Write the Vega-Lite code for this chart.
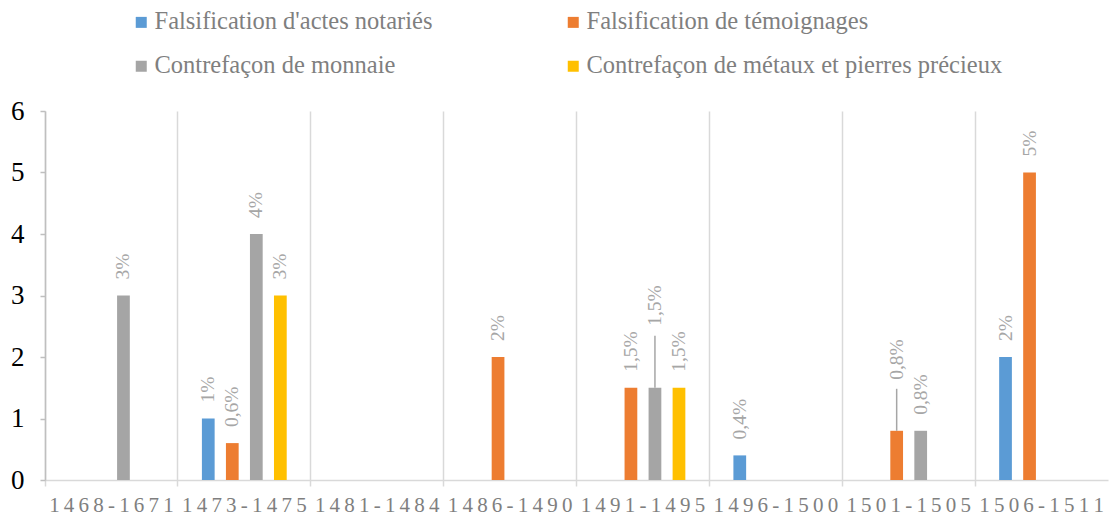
{
  "$schema": "https://vega.github.io/schema/vega-lite/v6.json",
  "width": 1063,
  "height": 369,
  "autosize": "none",
  "padding": {"left": 45, "top": 111, "right": 2, "bottom": 36},
  "background": "white",
  "config": {"font": "Liberation Serif, Times New Roman, serif", "view": {"stroke": null}},
  "data": {
    "values": [
      {"periode": "1468-1671", "type": "Contrefaçon de monnaie", "valeur": 3, "label": "3%"},
      {"periode": "1473-1475", "type": "Falsification d'actes notariés", "valeur": 1, "label": "1%"},
      {"periode": "1473-1475", "type": "Falsification de témoignages", "valeur": 0.6, "label": "0,6%"},
      {"periode": "1473-1475", "type": "Contrefaçon de monnaie", "valeur": 4, "label": "4%"},
      {"periode": "1473-1475", "type": "Contrefaçon de métaux et pierres précieux", "valeur": 3, "label": "3%"},
      {"periode": "1486-1490", "type": "Falsification de témoignages", "valeur": 2, "label": "2%"},
      {"periode": "1491-1495", "type": "Falsification de témoignages", "valeur": 1.5, "label": "1,5%"},
      {"periode": "1491-1495", "type": "Contrefaçon de monnaie", "valeur": 1.5, "label": "1,5%"},
      {"periode": "1491-1495", "type": "Contrefaçon de métaux et pierres précieux", "valeur": 1.5, "label": "1,5%"},
      {"periode": "1496-1500", "type": "Falsification d'actes notariés", "valeur": 0.4, "label": "0,4%"},
      {"periode": "1501-1505", "type": "Falsification de témoignages", "valeur": 0.8, "label": "0,8%"},
      {"periode": "1501-1505", "type": "Contrefaçon de monnaie", "valeur": 0.8, "label": "0,8%"},
      {"periode": "1506-1511", "type": "Falsification d'actes notariés", "valeur": 2, "label": "2%"},
      {"periode": "1506-1511", "type": "Falsification de témoignages", "valeur": 5, "label": "5%"}
    ]
  },
  "encoding": {
    "x": {
      "field": "periode",
      "type": "nominal",
      "scale": {
        "domain": ["1468-1671", "1473-1475", "1481-1484", "1486-1490", "1491-1495", "1496-1500", "1501-1505", "1506-1511"],
        "paddingInner": 0,
        "paddingOuter": 0
      },
      "axis": {
        "title": null,
        "bandPosition": 0,
        "labelOffset": 0,
        "labelAngle": 0,
        "labelOverlap": false,
        "labelFlush": false,
        "labelExpr": "join(split(datum.label, ''), '\u2009')",
        "labelFont": "Liberation Serif, Times New Roman, serif",
        "labelFontSize": 21,
        "labelColor": "#7f7f7f",
        "labelPadding": 8,
        "domainColor": "#d9d9d9",
        "domainWidth": 1.5,
        "tickColor": "#d9d9d9",
        "tickSize": 6,
        "tickWidth": 1.5,
        "grid": true,
        "gridColor": "#d9d9d9",
        "gridWidth": 1.5
      }
    },
    "xOffset": {
      "field": "type",
      "type": "nominal",
      "scale": {
        "domain": ["Falsification d'actes notariés", "Falsification de témoignages", "Contrefaçon de monnaie", "Contrefaçon de métaux et pierres précieux"],
        "paddingInner": 0.47,
        "paddingOuter": 1.17
      }
    },
    "y": {
      "field": "valeur",
      "type": "quantitative",
      "scale": {"domain": [0, 6]},
      "axis": {
        "title": null,
        "values": [0, 1, 2, 3, 4, 5, 6],
        "grid": false,
        "labelFont": "Liberation Serif, Times New Roman, serif",
        "labelFontSize": 27,
        "labelColor": "#000000",
        "labelPadding": 16,
        "domainColor": "#bfbfbf",
        "domainWidth": 1.5,
        "tickColor": "#bfbfbf",
        "tickSize": 5,
        "tickWidth": 1.5
      }
    }
  },
  "layer": [
    {
      "mark": {"type": "bar"},
      "encoding": {
        "color": {
          "field": "type",
          "type": "nominal",
          "scale": {
            "domain": ["Falsification d'actes notariés", "Falsification de témoignages", "Contrefaçon de monnaie", "Contrefaçon de métaux et pierres précieux"],
            "range": ["#5b9bd5", "#ed7d31", "#a5a5a5", "#ffc000"]
          },
          "legend": {
            "title": null,
            "orient": "none",
            "legendX": 84,
            "legendY": -101,
            "padding": 0,
            "direction": "horizontal",
            "columns": 2,
            "columnPadding": 128,
            "rowPadding": 19,
            "symbolType": "square",
            "symbolSize": 121,
            "symbolStrokeWidth": 0,
            "symbolOpacity": 1,
            "labelFont": "Liberation Serif, Times New Roman, serif",
            "labelFontSize": 24.5,
            "labelColor": "#7f7f7f",
            "labelOffset": 1,
            "labelLimit": 600
          }
        }
      }
    },
    {
      "transform": [
        {"filter": "!((datum.periode == '1491-1495' && datum.type == 'Contrefaçon de monnaie') || (datum.periode == '1501-1505' && datum.type == 'Falsification de témoignages'))"}
      ],
      "mark": {"type": "text", "angle": 270, "align": "left", "baseline": "middle", "dx": 16, "fontSize": 19.5, "font": "Liberation Serif, Times New Roman, serif", "color": "#a6a6a6"},
      "encoding": {"text": {"field": "label", "type": "nominal"}}
    },
    {
      "transform": [{"filter": "datum.periode == '1491-1495' && datum.type == 'Contrefaçon de monnaie'"}],
      "mark": {"type": "text", "angle": 270, "align": "left", "baseline": "middle", "dx": 62, "fontSize": 19.5, "font": "Liberation Serif, Times New Roman, serif", "color": "#a6a6a6"},
      "encoding": {"text": {"field": "label", "type": "nominal"}}
    },
    {
      "transform": [{"filter": "datum.periode == '1491-1495' && datum.type == 'Contrefaçon de monnaie'"}],
      "mark": {"type": "rule", "color": "#a6a6a6", "strokeWidth": 1.5, "y2Offset": -52},
      "encoding": {"y2": {"field": "valeur"}}
    },
    {
      "transform": [{"filter": "datum.periode == '1501-1505' && datum.type == 'Falsification de témoignages'"}],
      "mark": {"type": "text", "angle": 270, "align": "left", "baseline": "middle", "dx": 51, "fontSize": 19.5, "font": "Liberation Serif, Times New Roman, serif", "color": "#a6a6a6"},
      "encoding": {"text": {"field": "label", "type": "nominal"}}
    },
    {
      "transform": [{"filter": "datum.periode == '1501-1505' && datum.type == 'Falsification de témoignages'"}],
      "mark": {"type": "rule", "color": "#a6a6a6", "strokeWidth": 1.5, "y2Offset": -42},
      "encoding": {"y2": {"field": "valeur"}}
    }
  ]
}
